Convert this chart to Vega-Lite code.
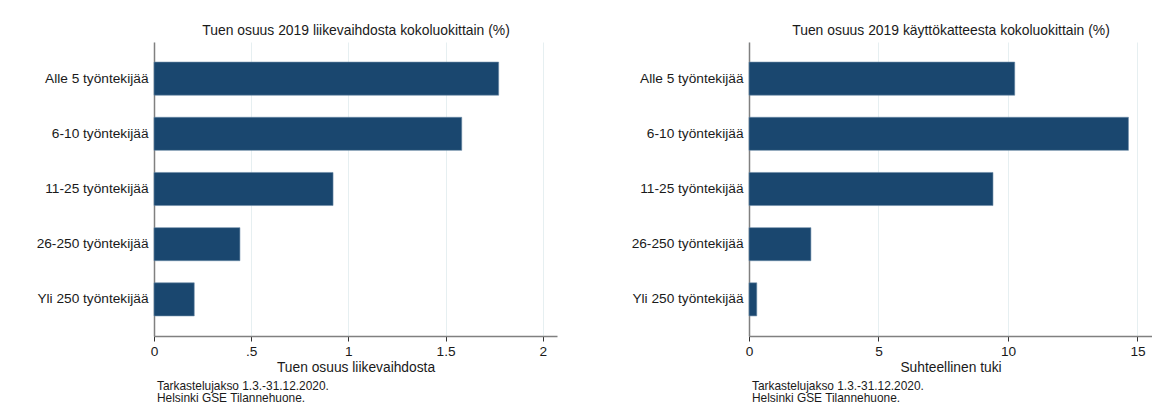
{
  "$schema": "https://vega.github.io/schema/vega-lite/v6.json",
  "background": "white",
  "padding": {"left": 4, "top": 23, "right": 0, "bottom": 0},
  "autosize": {"type": "pad"},
  "spacing": 42,
  "data": {
    "values": [
      {"luokka": "Alle 5 työntekijää", "liikevaihto": 1.773, "kate": 10.26},
      {"luokka": "6-10 työntekijää", "liikevaihto": 1.583, "kate": 14.65},
      {"luokka": "11-25 työntekijää", "liikevaihto": 0.921, "kate": 9.42},
      {"luokka": "26-250 työntekijää", "liikevaihto": 0.442, "kate": 2.39},
      {"luokka": "Yli 250 työntekijää", "liikevaihto": 0.207, "kate": 0.30}
    ]
  },
  "config": {
    "font": "Liberation Sans",
    "view": {"stroke": null},
    "axis": {
      "labelColor": "#1a1a1a",
      "titleColor": "#1a1a1a",
      "labelFont": "Liberation Sans",
      "titleFont": "Liberation Sans",
      "titleFontWeight": "normal",
      "gridColor": "#e6eff1",
      "gridWidth": 1,
      "domainColor": "#808080",
      "domainWidth": 1.5,
      "tickColor": "#333333"
    },
    "title": {"font": "Liberation Sans", "fontWeight": "normal", "color": "#1a1a1a"}
  },
  "hconcat": [
    {
      "width": 403,
      "height": 294,
      "title": {"text": ["Tarkastelujakso 1.3.-31.12.2020.", "Helsinki GSE Tilannehuone."], "orient": "bottom", "anchor": "start", "frame": "group", "fontSize": 11.9, "lineHeight": 12, "dx": 3, "offset": 6},
      "layer": [
        {
          "mark": {"type": "bar", "color": "#1a476f", "stroke": "#6a8aa6", "strokeWidth": 0.6},
          "encoding": {
            "y": {"field": "luokka", "type": "nominal", "sort": ["Alle 5 työntekijää", "6-10 työntekijää", "11-25 työntekijää", "26-250 työntekijää", "Yli 250 työntekijää"], "scale": {"paddingInner": 0.4, "paddingOuter": 0.364}, "axis": {"title": null, "ticks": false, "labelPadding": 6, "minExtent": 150, "maxExtent": 150, "labelFontSize": 13.7, "labelLimit": 200, "grid": false}},
            "x": {"field": "liikevaihto", "type": "quantitative", "scale": {"domain": [0, 2.073], "nice": false, "zero": true}, "axis": {"values": [0, 0.5, 1, 1.5, 2], "labelExpr": "datum.value == 0.5 ? '.5' : toString(datum.value)", "title": "Tuen osuus liikevaihdosta", "titleFontSize": 13.8, "titlePadding": 3, "labelFontSize": 13.7, "labelPadding": 3, "tickSize": 5, "grid": true, "labelFlush": false}}
          }
        },
        {
          "mark": {"type": "bar", "opacity": 0},
          "encoding": {
            "y": {"field": "luokka", "type": "nominal", "sort": ["Alle 5 työntekijää", "6-10 työntekijää", "11-25 työntekijää", "26-250 työntekijää", "Yli 250 työntekijää"]},
            "x": {"field": "liikevaihto", "type": "quantitative", "axis": {"orient": "top", "title": "Tuen osuus 2019 liikevaihdosta kokoluokittain (%)", "titleFontSize": 13.9, "titlePadding": 5, "labels": false, "ticks": false, "domain": false, "grid": false, "minExtent": 0, "maxExtent": 0}}
          }
        }
      ],
      "resolve": {"axis": {"x": "independent"}}
    },
    {
      "width": 403,
      "height": 294,
      "title": {"text": ["Tarkastelujakso 1.3.-31.12.2020.", "Helsinki GSE Tilannehuone."], "orient": "bottom", "anchor": "start", "frame": "group", "fontSize": 11.9, "lineHeight": 12, "dx": 3, "offset": 6},
      "layer": [
        {
          "mark": {"type": "bar", "color": "#1a476f", "stroke": "#6a8aa6", "strokeWidth": 0.6},
          "encoding": {
            "y": {"field": "luokka", "type": "nominal", "sort": ["Alle 5 työntekijää", "6-10 työntekijää", "11-25 työntekijää", "26-250 työntekijää", "Yli 250 työntekijää"], "scale": {"paddingInner": 0.4, "paddingOuter": 0.364}, "axis": {"title": null, "ticks": false, "labelPadding": 6, "minExtent": 150, "maxExtent": 150, "labelFontSize": 13.7, "labelLimit": 200, "grid": false}},
            "x": {"field": "kate", "type": "quantitative", "scale": {"domain": [0, 15.56], "nice": false, "zero": true}, "axis": {"values": [0, 5, 10, 15], "title": "Suhteellinen tuki", "titleFontSize": 13.8, "titlePadding": 3, "labelFontSize": 13.7, "labelPadding": 3, "tickSize": 5, "grid": true, "labelFlush": false}}
          }
        },
        {
          "mark": {"type": "bar", "opacity": 0},
          "encoding": {
            "y": {"field": "luokka", "type": "nominal", "sort": ["Alle 5 työntekijää", "6-10 työntekijää", "11-25 työntekijää", "26-250 työntekijää", "Yli 250 työntekijää"]},
            "x": {"field": "kate", "type": "quantitative", "axis": {"orient": "top", "title": "Tuen osuus 2019 käyttökatteesta kokoluokittain (%)", "titleFontSize": 13.9, "titlePadding": 5, "labels": false, "ticks": false, "domain": false, "grid": false, "minExtent": 0, "maxExtent": 0}}
          }
        }
      ],
      "resolve": {"axis": {"x": "independent"}}
    }
  ]
}
